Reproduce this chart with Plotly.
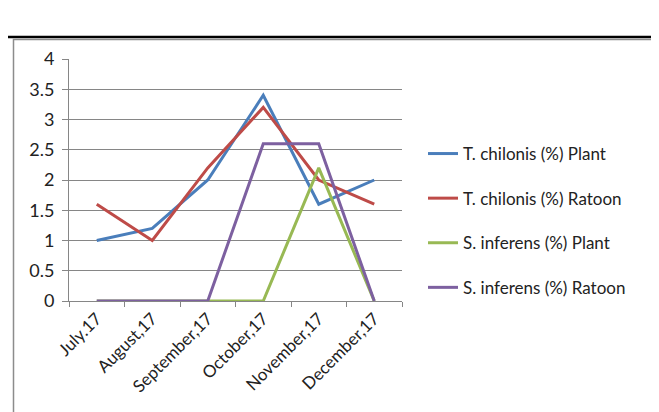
import plotly.graph_objects as go

months = ["July.17", "August,17", "September,17", "October,17", "November,17", "December,17"]
tc_plant = [1.0, 1.2, 2.0, 3.4, 1.6, 2.0]
tc_ratoon = [1.6, 1.0, 2.2, 3.2, 2.0, 1.6]
si_plant = [0, 0, 0, 0, 2.2, 0]
si_ratoon = [0, 0, 0, 2.6, 2.6, 0]

series_names = ["T. chilonis (%) Plant", "T. chilonis (%) Ratoon", "S. inferens (%) Plant", "S. inferens (%) Ratoon"]
series_vals = [tc_plant, tc_ratoon, si_plant, si_ratoon]
colors = ["#4A7EBB", "#BE4B48", "#98B954", "#7D60A0"]

FONT = "Lato"
fig = go.Figure()
for i, (n, v, c) in enumerate(zip(series_names, series_vals, colors)):
    fig.add_trace(go.Scatter(x=months, y=v, name=n, mode="lines",
                             line=dict(color=c, width=3), legendgroup=f"g{i}"))

OFF = 8  # browser body margin
W, H = 659 - OFF, 412 - OFF
L, T, R, B = 61, 51, 257, 111
pw, ph = W - L - R, H - T - B

def px2x(sx):
    return (sx - OFF - L) / pw

def py2y(sy):
    return (H - B - (sy - OFF)) / ph

fig.update_layout(
    width=W, height=H,
    margin=dict(l=L, r=R, t=T, b=B),
    paper_bgcolor="white", plot_bgcolor="white",
    font=dict(family=FONT, size=17, color="#222"),
    showlegend=True,
    legend=dict(x=px2x(423), y=py2y(136), xanchor="left", yanchor="top",
                font=dict(family=FONT, size=17, color="#222"),
                tracegroupgap=19.5, itemwidth=30, bgcolor="rgba(0,0,0,0)"),
    xaxis=dict(type="category", range=[-0.5, 5.5], tickson="boundaries",
               ticks="outside", ticklen=5, tickcolor="#868686",
               showline=True, linecolor="#868686", linewidth=1,
               showgrid=False, tickangle=-45, zeroline=False,
               tickfont=dict(family=FONT, size=17, color="#222")),
    yaxis=dict(range=[0, 4], dtick=0.5, ticks="outside", ticklen=6,
               tickcolor="#868686", showline=True, linecolor="#868686",
               showgrid=True, gridcolor="#868686", gridwidth=1, zeroline=False,
               ticklabelstandoff=4,
               tickfont=dict(family=FONT, size=18, color="#222")),
    shapes=[
        dict(type="line", xref="paper", yref="paper", x0=px2x(0), x1=px2x(664),
             y0=py2y(37), y1=py2y(37), line=dict(color="black", width=2.5)),
        dict(type="rect", xref="paper", yref="paper", x0=px2x(13.5), x1=px2x(652.5),
             y0=py2y(39.5), y1=py2y(430), line=dict(color="#8c8c8c", width=1.5)),
    ],
)

fig.write_html("out.html")
